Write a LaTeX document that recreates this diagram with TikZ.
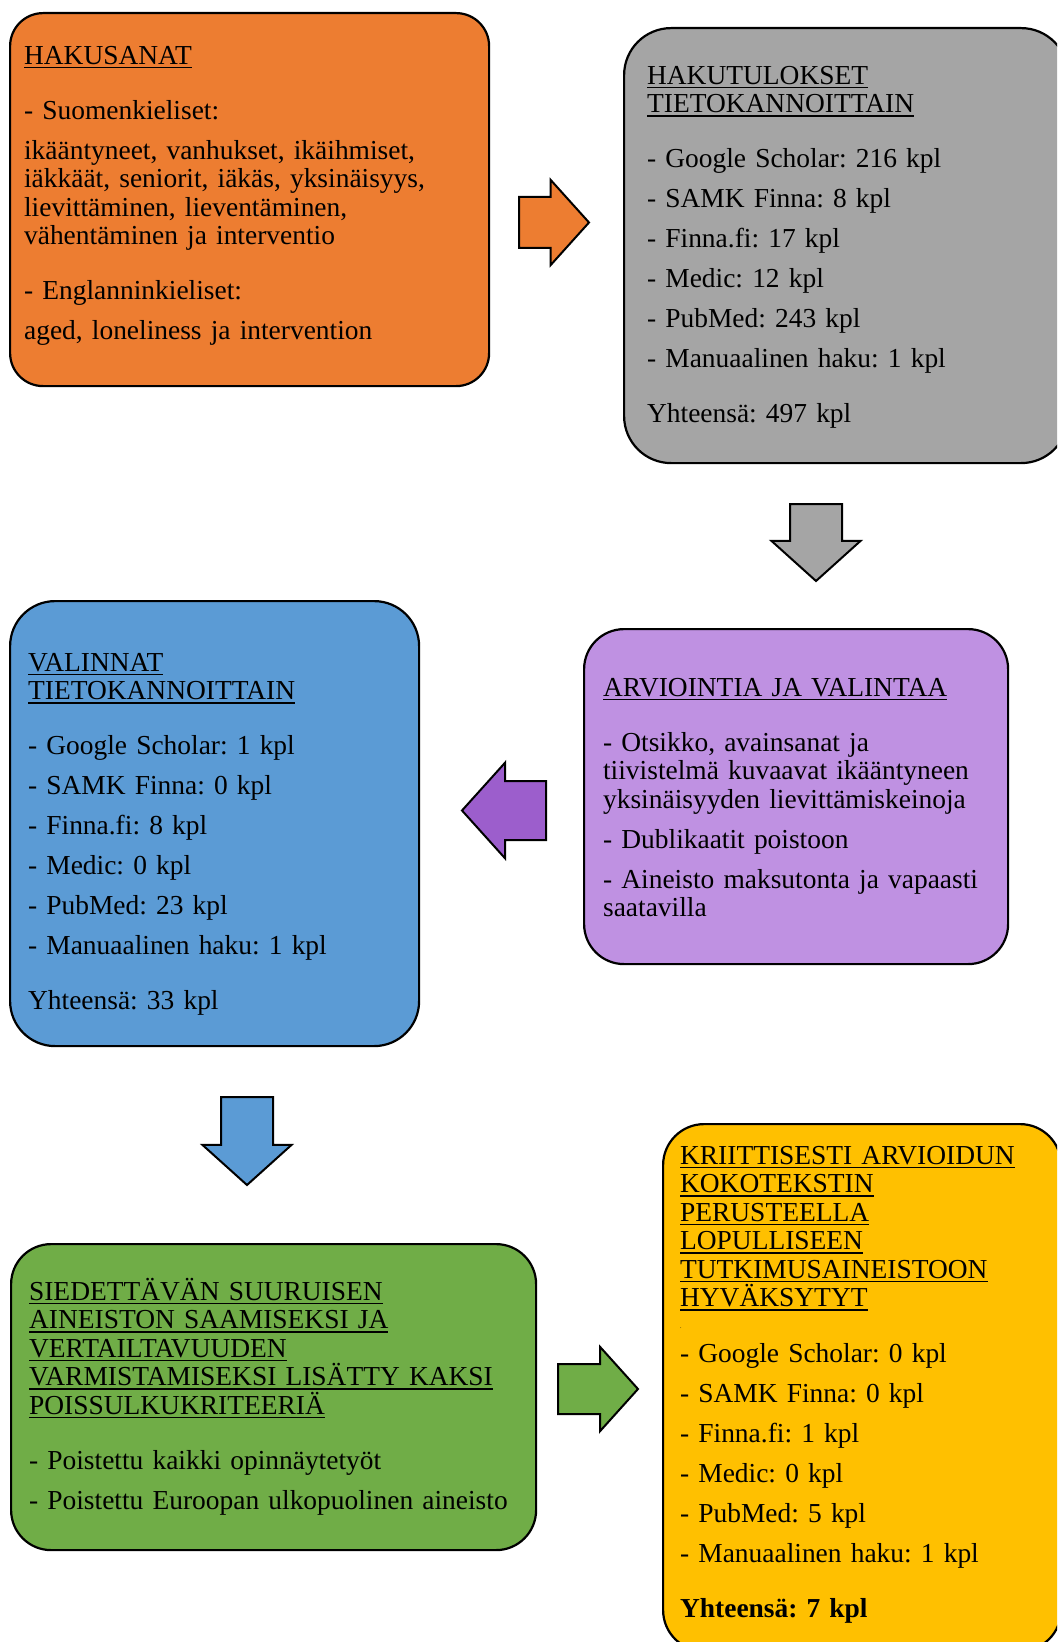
\documentclass[tikz,border=0pt]{standalone}
\usepackage{fontspec}
\setmainfont{Liberation Serif}
\usepackage{tikz}
\usetikzlibrary{shapes.arrows, positioning}
\definecolor{HakuOranssi}{RGB}{237,125,49}
\definecolor{HakuHarmaa}{RGB}{165,165,165}
\definecolor{ArvioLila}{RGB}{191,145,226}
\definecolor{ArvioNuoli}{RGB}{156,94,204}
\definecolor{ValintaSininen}{RGB}{91,155,213}
\definecolor{PoissulkuVihrea}{RGB}{112,173,71}
\definecolor{TulosKulta}{RGB}{255,192,0}

\newcommand{\ulhead}[1]{\leavevmode\setbox0\hbox{#1}\rlap{\rule[-2pt]{\wd0}{0.7pt}}\box0}
\newcommand{\pgap}{\\[5.75pt]}
\newcommand{\bgap}{\\[13.25pt]}
\frenchspacing

\tikzset{
    laatikko/.style={draw=black, line width=1.1pt, anchor=north west, align=left,
        inner ysep=0pt, font=\fontsize{13.72pt}{14.25pt}\selectfont},
    nuoli/.style={single arrow, draw=black, line width=1pt, outer sep=0pt,
        single arrow head indent=0pt, single arrow tip angle=96, anchor=tail}
}

\begin{document}
\begin{tikzpicture}[x=0.5pt, y=-0.5pt]
    \useasboundingbox (0,0) rectangle (1057,1642);
    \clip (0,0) rectangle (1057,1642);

    \node[laatikko, fill=HakuOranssi, rounded corners=16.5pt, inner xsep=7pt, text width=225.5pt,
          text height=25.5pt, text depth=161pt] (hakusanat) at (9,12) {%
        \ulhead{HAKUSANAT}\bgap
        - Suomenkieliset:\pgap
        ikääntyneet, vanhukset, ikäihmiset,\\
        iäkkäät, seniorit, iäkäs, yksinäisyys,\\
        lievittäminen, lieventäminen,\\
        vähentäminen ja interventio\bgap
        - Englanninkieliset:\pgap
        aged, loneliness ja intervention};

    \node[laatikko, fill=HakuHarmaa, rounded corners=23.5pt, inner xsep=11.5pt, text width=199pt,
          text height=28pt, text depth=189.5pt] (hakutulokset) at (623,27) {%
        \ulhead{HAKUTULOKSET}\\
        \ulhead{TIETOKANNOITTAIN}\bgap
        - Google Scholar: 216 kpl\pgap
        - SAMK Finna: 8 kpl\pgap
        - Finna.fi: 17 kpl\pgap
        - Medic: 12 kpl\pgap
        - PubMed: 243 kpl\pgap
        - Manuaalinen haku: 1 kpl\bgap
        Yhteensä: 497 kpl};

    \node[laatikko, fill=ArvioLila, rounded corners=20pt, inner xsep=9.5pt, text width=193pt,
          text height=33.5pt, text depth=134pt] (arviointi) at (583,628) {%
        \ulhead{ARVIOINTIA JA VALINTAA}\bgap
        - Otsikko, avainsanat ja\\
        tiivistelmä kuvaavat ikääntyneen\\
        yksinäisyyden lievittämiskeinoja\pgap
        - Dublikaatit poistoon\pgap
        - Aineisto maksutonta ja vapaasti\\
        saatavilla};

    \node[laatikko, fill=ValintaSininen, rounded corners=22.5pt, inner xsep=9pt, text width=186.5pt,
          text height=35pt, text depth=187.5pt] (valinnat) at (9,600) {%
        \ulhead{VALINNAT}\\
        \ulhead{TIETOKANNOITTAIN}\bgap
        - Google Scholar: 1 kpl\pgap
        - SAMK Finna: 0 kpl\pgap
        - Finna.fi: 8 kpl\pgap
        - Medic: 0 kpl\pgap
        - PubMed: 23 kpl\pgap
        - Manuaalinen haku: 1 kpl\bgap
        Yhteensä: 33 kpl};

    \node[laatikko, fill=PoissulkuVihrea, rounded corners=20pt, inner xsep=9pt, text width=244.5pt,
          text height=28pt, text depth=125pt] (poissulku) at (10,1243) {%
        \ulhead{SIEDETTÄVÄN SUURUISEN}\\
        \ulhead{AINEISTON SAAMISEKSI JA}\\
        \ulhead{VERTAILTAVUUDEN}\\
        \ulhead{VARMISTAMISEKSI LISÄTTY KAKSI}\\
        \ulhead{POISSULKUKRITEERIÄ}\bgap
        - Poistettu kaikki opinnäytetyöt\pgap
        - Poistettu Euroopan ulkopuolinen aineisto};

    \node[laatikko, fill=TulosKulta, rounded corners=20.5pt, inner xsep=8.5pt, text width=182pt,
          text height=20pt, text depth=243.5pt] (hyvaksytyt) at (662,1123) {%
        \ulhead{KRIITTISESTI ARVIOIDUN}\\
        \ulhead{KOKOTEKSTIN}\\
        \ulhead{PERUSTEELLA}\\
        \ulhead{LOPULLISEEN}\\
        \ulhead{TUTKIMUSAINEISTOON}\\
        \ulhead{HYVÄKSYTYT}\\[-3.25pt]
        {\fontsize{3pt}{3pt}\selectfont .}\\[2.75pt]
        - Google Scholar: 0 kpl\pgap
        - SAMK Finna: 0 kpl\pgap
        - Finna.fi: 1 kpl\pgap
        - Medic: 0 kpl\pgap
        - PubMed: 5 kpl\pgap
        - Manuaalinen haku: 1 kpl\bgap
        \textbf{Yhteensä: 7 kpl}};

    % nuolet laatikoiden valissa
    \node[nuoli, fill=HakuOranssi, inner xsep=0pt, inner ysep=12.25pt, minimum height=35pt,
          single arrow head extend=8.5pt] (a1) at (519,222.5) {};
    \node[nuoli, fill=HakuHarmaa, inner ysep=0pt, inner xsep=12.5pt, minimum height=38.5pt,
          single arrow head extend=9.25pt, shape border rotate=270] (a2) at (816,504) {};
    \node[nuoli, fill=ArvioNuoli, inner xsep=0pt, inner ysep=14.25pt, minimum height=42pt,
          single arrow head extend=9.25pt, shape border rotate=180] (a3) at (546,810.5) {};
    \node[nuoli, fill=ValintaSininen, inner ysep=0pt, inner xsep=12.5pt, minimum height=44pt,
          single arrow head extend=9.25pt, shape border rotate=270] (a4) at (247,1097) {};
    \node[nuoli, fill=PoissulkuVihrea, inner xsep=0pt, inner ysep=12pt, minimum height=40pt,
          single arrow head extend=8.5pt] (a5) at (558,1389) {};
\end{tikzpicture}
\end{document}
